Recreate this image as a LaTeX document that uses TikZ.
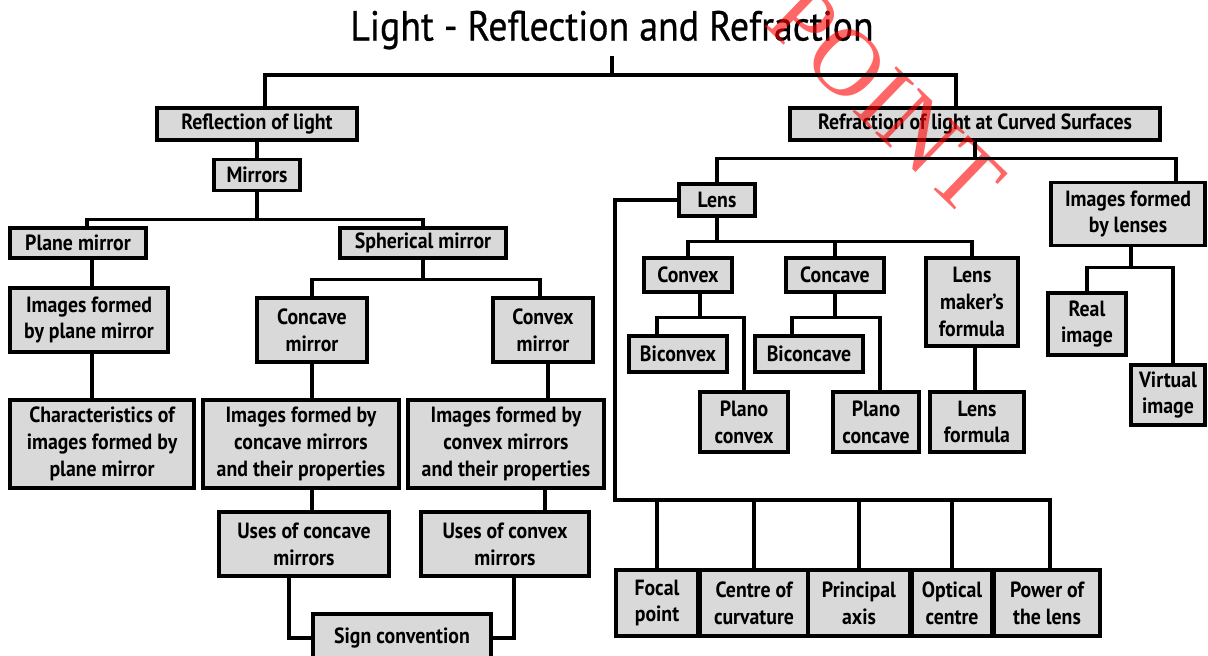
\documentclass[tikz,border=0pt]{standalone}
\usepackage{fontspec}
\setmainfont{PT Sans}[FakeStretch=0.9]
\newfontfamily\titlefont{PT Sans}[FakeStretch=0.9,FakeBold=0.6]
\newfontfamily\wmfont{Liberation Serif}
\usetikzlibrary{positioning}

\tikzset{
  topic/.style={draw,line width=1.6pt,fill=black!15,align=center,inner sep=1pt,
    font=\fontsize{11}{13.4}\selectfont\bfseries},
  link/.style={line width=1.6pt},
}

\begin{document}
\begin{tikzpicture}[x=0.5pt,y=-0.5pt]
\useasboundingbox (0,0) rectangle (1208,655);

% title
\node[font=\titlefont\fontsize{21}{24}\selectfont] (title) at (612,30) {Light - Reflection and Refraction};

% reflection branch
\node[topic,minimum width=100pt,minimum height=16pt] (refl) at (257,124) {Reflection of light};
\node[topic,minimum width=43pt,minimum height=15.5pt] (mirrors) at (257,175) {Mirrors};
\node[topic,minimum width=68pt,minimum height=15pt] (plane) at (78,243) {Plane mirror};
\node[topic,minimum width=83pt,minimum height=15pt] (spherical) at (423,243) {Spherical mirror};
\node[topic,minimum width=79pt,minimum height=32pt] (imgplane) at (89,320) {Images formed\\by plane mirror};
\node[topic,minimum width=92pt,minimum height=44pt] (charplane) at (102,444) {Characteristics of\\images formed by\\plane mirror};
\node[topic,minimum width=55pt,minimum height=32pt] (concavem) at (312,330) {Concave\\mirror};
\node[topic,minimum width=50pt,minimum height=32pt] (convexm) at (543,330) {Convex\\mirror};
\node[topic,minimum width=98pt,minimum height=44pt] (imgconcave) at (301,444) {Images formed by\\concave mirrors\\and their properties};
\node[topic,minimum width=98pt,minimum height=44pt] (imgconvex) at (506,444) {Images formed by\\convex mirrors\\and their properties};
\node[topic,minimum width=85pt,minimum height=32pt] (useconcave) at (304,544) {Uses of concave\\mirrors};
\node[topic,minimum width=84pt,minimum height=32pt] (useconvex) at (505,544) {Uses of convex\\mirrors};
\node[topic,minimum width=89pt,minimum height=24pt] (sign) at (402,638) {Sign convention};

% refraction branch
\node[topic,minimum width=185pt,minimum height=16pt] (refr) at (975,124) {Refraction of light at Curved Surfaces};
\node[topic,minimum width=38pt,minimum height=16pt] (lens) at (717,200) {Lens};
\node[topic,minimum width=77pt,minimum height=31.5pt] (imglens) at (1128,214) {Images formed\\by lenses};
\node[topic,minimum width=44pt,minimum height=17pt] (convex) at (688,275) {Convex};
\node[topic,minimum width=49pt,minimum height=17pt] (concave) at (835,275) {Concave};
\node[topic,minimum width=46pt,minimum height=44pt] (maker) at (972,302) {Lens\\maker's\\formula};
\node[topic,minimum width=49pt,minimum height=18pt] (biconvex) at (678,354) {Biconvex};
\node[topic,minimum width=54pt,minimum height=18pt] (biconcave) at (809,354) {Biconcave};
\node[topic,minimum width=44pt,minimum height=30pt] (planoconvex) at (744,422) {Plano\\convex};
\node[topic,minimum width=43pt,minimum height=30pt] (planoconcave) at (876,422) {Plano\\concave};
\node[topic,minimum width=47pt,minimum height=30pt] (lensformula) at (977,422) {Lens\\formula};
\node[topic,minimum width=39pt,minimum height=31pt] (real) at (1087,324) {Real\\image};
\node[topic,minimum width=37pt,minimum height=30pt] (virtual) at (1168,395) {Virtual\\image};

% bottom row of lens terms
\node[topic,minimum width=41pt,minimum height=33pt] (focal) at (657,603) {Focal\\point};
\node[topic,minimum width=54pt,minimum height=33pt] (centre) at (754,603) {Centre of\\curvature};
\node[topic,minimum width=51pt,minimum height=33pt] (principal) at (859,603) {Principal\\axis};
\node[topic,minimum width=40pt,minimum height=33pt] (optical) at (952,603) {Optical\\centre};
\node[topic,minimum width=53pt,minimum height=33pt] (power) at (1047,603) {Power of\\the lens};

% watermark
\node[text=red,opacity=0.6,rotate=-44,font=\wmfont\fontsize{48}{48}\selectfont] (mark) at (886,100) {POINT};

% top connectors
\coordinate (tbus) at (612,75);
\draw[link] (title.south) -- (tbus);
\draw[link] ([xshift=4pt]refl.north) |- (tbus) -| ([xshift=-9.5pt]refr.north);

% mirrors
\draw[link] (refl) -- (mirrors);
\draw[link] (mirrors.south) -- ++(0,27) -| ([xshift=4.5pt]plane.north);
\draw[link] (mirrors.south) ++(0,27) -| (spherical.north);
\draw[link] ([xshift=7pt]plane.south) -- ([xshift=7pt]plane.south |- imgplane.north);
\draw[link] ([xshift=1.5pt]imgplane.south) -- ([xshift=1.5pt]imgplane.south |- charplane.north);
\draw[link] (spherical.south) -- ++(0,20) -| (concavem.north);
\draw[link] (spherical.south) ++(0,20) -| ([xshift=-1.5pt]convexm.north);
\draw[link] (concavem) -- (concavem |- imgconcave.north);
\draw[link] ([xshift=2.5pt]convexm.south) -- ([xshift=2.5pt]convexm.south |- imgconvex.north);
\draw[link] ([xshift=5.5pt]imgconcave.south) -- ([xshift=5.5pt]imgconcave.south |- useconcave.north);
\draw[link] ([xshift=19.5pt]imgconvex.south) -- ([xshift=19.5pt]imgconvex.south |- useconvex.north);
\draw[link] ([xshift=-7.5pt]useconcave.south) |- (sign.west);
\draw[link] ([xshift=4.5pt]useconvex.south) |- (sign.east);

% lens
\draw[link] (refr.south) -- ++(0,17) -| (lens.north);
\draw[link] (refr.south) ++(0,17) -| ([xshift=24pt]imglens.north);
\draw[link] (lens.south) -- ++(0,24) -| (convex.north);
\draw[link] (lens.south) ++(0,24) -| (concave.north);
\draw[link] (lens.south) ++(0,24) -| (maker.north);
\draw[link] ([xshift=6pt]convex.south) -- ++(0,24) -| ([xshift=-10.5pt]biconvex.north);
\draw[link] ([xshift=6pt]convex.south) ++(0,24) -| (planoconvex.north);
\draw[link] (concave.south) -- ++(0,24) -| ([xshift=-8.5pt]biconcave.north);
\draw[link] (concave.south) ++(0,24) -| ([xshift=2pt]planoconcave.north);
\draw[link] ([xshift=1.5pt]maker.south) -- ([xshift=1.5pt]maker.south |- lensformula.north);
\draw[link] ([xshift=1.5pt]imglens.south) -- ++(0,20) -| (real.north);
\draw[link] ([xshift=1.5pt]imglens.south) ++(0,20) -| ([xshift=2.5pt]virtual.north);

% lens terms
\coordinate (lbus) at (615,500);
\draw[link] (lens.west) -| (lbus) -| ([xshift=1.5pt]power.north);
\foreach \n in {focal,centre,principal,optical}
  \draw[link] (\n.north) -- (\n.north |- lbus);

\end{tikzpicture}
\end{document}
